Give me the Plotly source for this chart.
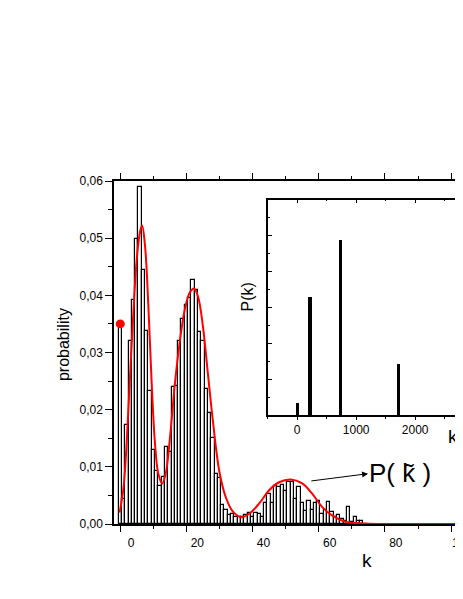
import plotly.graph_objects as go

# histogram of k (bin width 1)
hist_k = list(range(0, 74))
hist_p = [0.0350, 0.0044, 0.0174, 0.0320, 0.0392, 0.0499, 0.0589, 0.0444, 0.0338, 0.0233,
          0.0129, 0.0092, 0.0066, 0.0083, 0.0135, 0.0126, 0.0239, 0.0241, 0.0320, 0.0358,
          0.0383, 0.0396, 0.0426, 0.0410, 0.0336, 0.0321, 0.0237, 0.0194, 0.0151, 0.0088,
          0.0080, 0.0033, 0.0024, 0.0015, 0.0018, 0.0012, 0.0012, 0.0012, 0.0015, 0.0019,
          0.0012, 0.0019, 0.0018, 0.0013, 0.0037, 0.0052, 0.0037, 0.0066, 0.0065, 0.0069,
          0.0058, 0.0073, 0.0073, 0.0044, 0.0065, 0.0036, 0.0023, 0.0041, 0.0024, 0.0036,
          0.0041, 0.0018, 0.0024, 0.0038, 0.0021, 0.0012, 0.0015, 0.0009, 0.0006, 0.0030,
          0.0003, 0.0012, 0.0006, 0.0006]

# red fitted curve
fit_k = [-0.2, 1.0, 2.0, 3.0, 4.0, 5.0, 6.0, 6.6, 7.5, 8.5, 9.5, 10.5, 11.5, 12.7, 13.8,
         15.0, 16.5, 18.0, 19.5, 21.0, 22.3, 23.5, 25.0, 26.5, 28.0, 30.0, 32.0, 34.0, 36.4,
         39.0, 42.0, 45.0, 48.0, 51.5, 55.0, 58.0, 61.0, 64.0, 68.0, 74.0, 80.0, 90.0, 104.0]
fit_p = [0.0020, 0.0065, 0.0150, 0.0265, 0.0375, 0.0465, 0.0512, 0.0522, 0.0485, 0.0380,
         0.0245, 0.0140, 0.0088, 0.0071, 0.0090, 0.0150, 0.0245, 0.0320, 0.0375, 0.0405,
         0.0412, 0.0398, 0.0345, 0.0262, 0.0180, 0.0090, 0.0045, 0.0022, 0.0012, 0.0018,
         0.0036, 0.0059, 0.0073, 0.0078, 0.0071, 0.0053, 0.0030, 0.0015, 0.0004, 0.0001,
         0.0, 0.0, 0.0]

dot_k = [0]
dot_p = [0.035]

# inset P(k)
inset_k = [0, 210, 730, 1710]
inset_p = [0.036, 0.331, 0.490, 0.143]

x_ticks = [0, 20, 40, 60, 80, 100]
x_labels = ['0', '20', '40', '60', '80', '100']
y_ticks = [0, 0.01, 0.02, 0.03, 0.04, 0.05, 0.06]
inset_ticks = [0, 1000, 2000]
inset_labels = ['0', '1000', '2000']

FONT = 'Liberation Sans, Arial, sans-serif'
lab_shift = 3.3  # tick labels sit a bit right of the tick marks in the original

fig = go.Figure()
fig.add_trace(go.Bar(x=hist_k, y=hist_p, width=1,
                     marker=dict(color='white', line=dict(color='black', width=1.2)),
                     hoverinfo='skip'))
fig.add_trace(go.Scatter(x=fit_k, y=fit_p, mode='lines', line=dict(color='red', width=2, shape='spline'),
                         cliponaxis=False))
fig.add_trace(go.Scatter(x=dot_k, y=dot_p, mode='markers', marker=dict(color='red', size=9)))
fig.add_trace(go.Bar(x=inset_k, y=inset_p, width=60, marker=dict(color='black', line=dict(width=0)),
                     xaxis='x2', yaxis='y2'))
# dummy traces so the helper axes get drawn
fig.add_trace(go.Scatter(x=[0], y=[0], xaxis='x3', yaxis='y', mode='markers',
                         marker=dict(opacity=0), hoverinfo='skip'))
fig.add_trace(go.Scatter(x=[0], y=[0], xaxis='x4', yaxis='y2', mode='markers',
                         marker=dict(opacity=0), hoverinfo='skip'))

# page body adds an 8px margin, so margins here are 8px smaller than on the picture
fig.update_layout(
    template='none',
    width=455, height=591,
    margin=dict(l=106, r=0, t=173, b=75),
    paper_bgcolor='white', plot_bgcolor='white',
    showlegend=False, bargap=0,
    separators=',.',
    font=dict(family=FONT, size=12, color='black'),
    xaxis=dict(domain=[0, 1], range=[-1.9, 103.6], anchor='y', automargin=False,
               tickvals=x_ticks, showticklabels=False,
               ticks='outside', ticklen=6, tickwidth=1, tickcolor='black',
               minor=dict(dtick=10, tick0=0, ticks='outside', ticklen=3, tickcolor='black'),
               showline=True, linecolor='black', linewidth=1.5, mirror='ticks',
               showgrid=False, zeroline=False, layer='below traces'),
    xaxis3=dict(overlaying='x', anchor='y', side='bottom', automargin=False,
                range=[-1.9 - lab_shift, 103.6 - lab_shift],
                tickvals=x_ticks, ticktext=x_labels, ticklabeloverflow='allow',
                ticks='outside', ticklen=8, tickcolor='rgba(0,0,0,0)',
                showline=False, showgrid=False, zeroline=False),
    yaxis=dict(domain=[0, 1], range=[0, 0.06], anchor='x', automargin=False,
               tickvals=y_ticks, tickformat='.2f',
               ticks='outside', ticklen=7, tickwidth=1, tickcolor='black',
               minor=dict(dtick=0.005, tick0=0, ticks='outside', ticklen=4, tickcolor='black'),
               showline=True, linecolor='black', linewidth=1.5,
               showgrid=False, zeroline=False),
    xaxis2=dict(domain=[0.44, 1], range=[-500, 2810], anchor='y2', automargin=False,
                tickvals=inset_ticks, ticktext=inset_labels, ticklabeloverflow='allow',
                ticks='outside', ticklen=3, tickcolor='black',
                minor=dict(dtick=500, tick0=0, ticks='outside', ticklen=2, tickcolor='black'),
                showline=True, linecolor='black', linewidth=1.5,
                showgrid=False, zeroline=False),
    xaxis4=dict(overlaying='x2', anchor='y2', side='top', range=[-500, 2810], automargin=False,
                tickvals=inset_ticks, showticklabels=False,
                ticks='inside', ticklen=4, tickcolor='black',
                minor=dict(dtick=500, tick0=0, ticks='inside', ticklen=2, tickcolor='black'),
                showline=True, linecolor='black', linewidth=1.5,
                showgrid=False, zeroline=False),
    yaxis2=dict(domain=[0.3176, 0.946], range=[0, 0.6], anchor='x2', automargin=False,
                tickvals=[0.1, 0.2, 0.3, 0.4, 0.5], showticklabels=False,
                ticks='inside', ticklen=5, tickcolor='black',
                minor=dict(dtick=0.05, tick0=0, ticks='inside', ticklen=3, tickcolor='black'),
                showline=True, linecolor='black', linewidth=1.5,
                showgrid=False, zeroline=False),
)


def label(text, x, y, size, angle=0):
    return dict(text=text, xref='paper', yref='paper', x=x, y=y, xanchor='center',
                yanchor='middle', textangle=angle, font=dict(size=size), showarrow=False)


ann = [
    label('probability', -0.143, 0.522, 16, -90),
    label('k', 0.725, -0.105, 19),
    label('P(k)', 0.3825, 0.662, 16, -90),
    label('k', 0.971, 0.254, 19),
    label('3000', 1.0335, 0.283, 12),
    label('P( k\u0303 )', 0.82, 0.149, 26),
    dict(text='', x=74.9, y=0.0088, ax=57.3, ay=0.0075, axref='x', ayref='y',
         xref='x', yref='y', showarrow=True, arrowhead=2, arrowsize=1.2,
         arrowwidth=1, arrowcolor='black'),
]
fig.update_layout(annotations=ann)

fig.write_html("out.html")
